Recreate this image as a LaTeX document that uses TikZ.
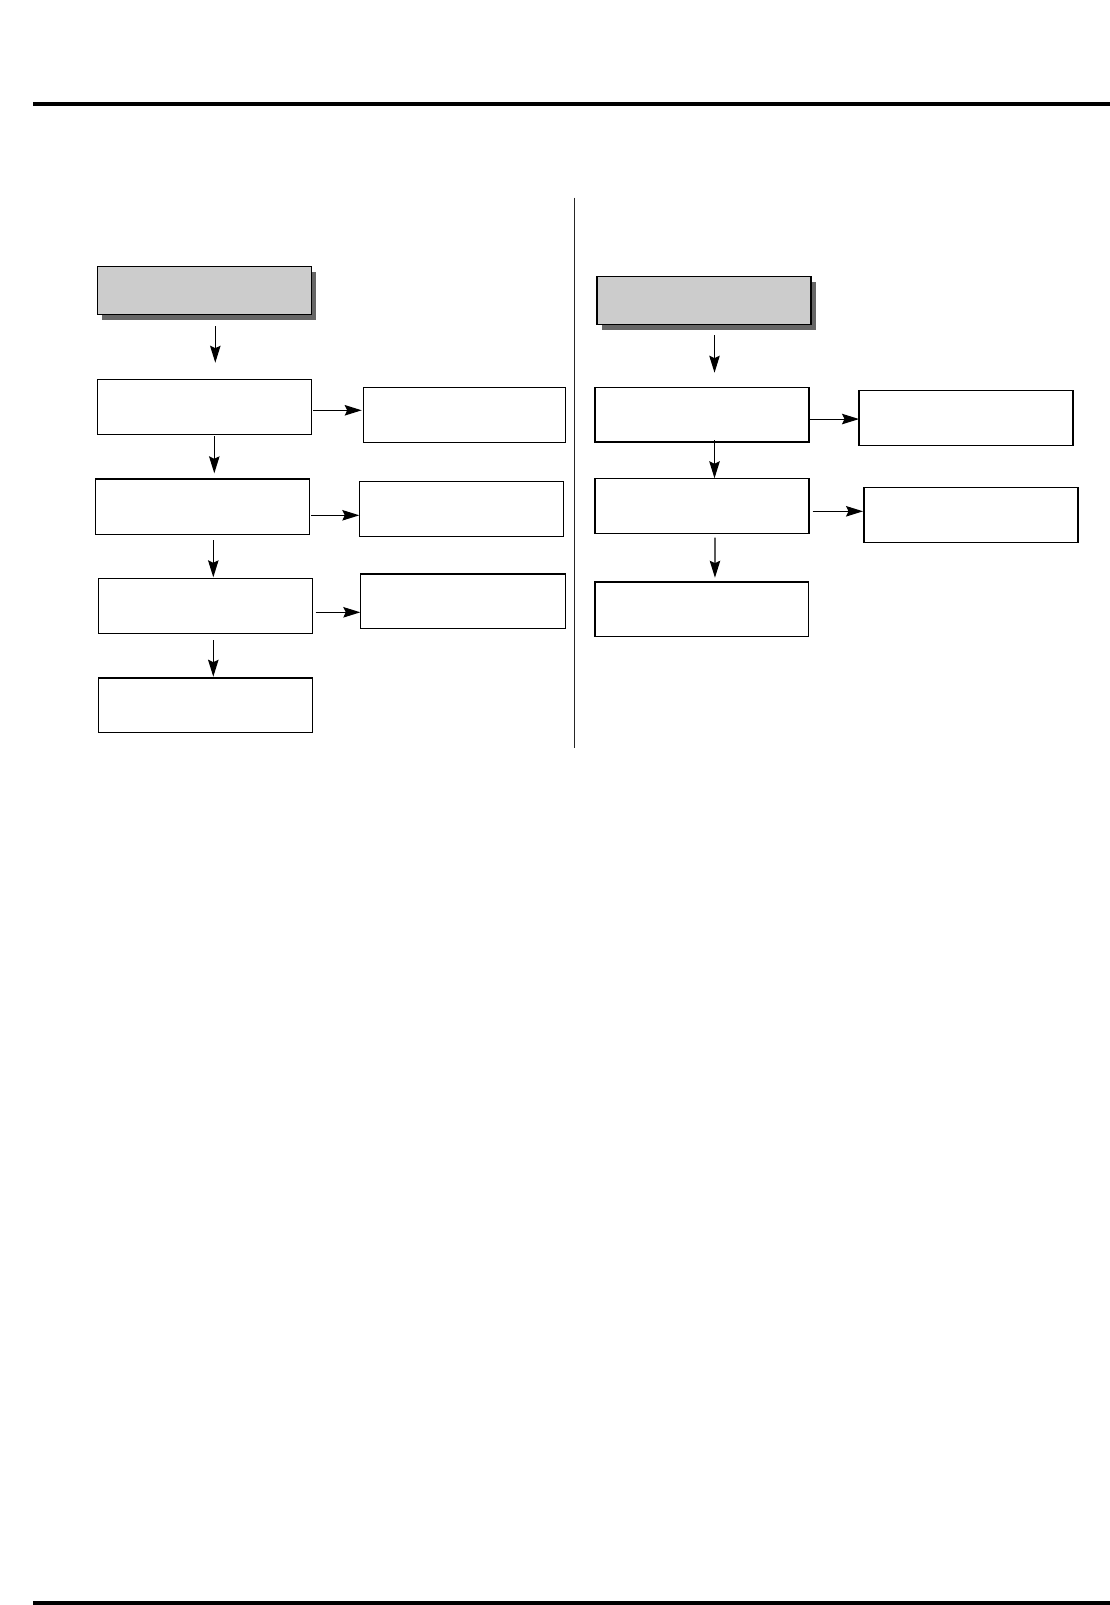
\documentclass[tikz,border=0pt]{standalone}
\usetikzlibrary{arrows.meta,shadows,calc}
\definecolor{boxgray}{HTML}{CCCCCC}
\definecolor{shadowgray}{HTML}{666666}
\tikzset{
  x=1pt, y=1pt,
  plainbox/.style={draw=black, line width=1.1pt, fill=white, inner sep=0pt, outer sep=0pt},
  headbox/.style={plainbox, fill=boxgray, drop shadow={shadow xshift=4.5pt, shadow yshift=-5.2pt, fill=shadowgray, opacity=1}},
  arr/.style={draw=black, line width=1.1pt, -{Stealth[length=17pt,width=10.5pt,inset=2.5pt]}},
  rule/.style={fill=black, draw=none},
  divider/.style={draw=black!85, line width=1.2pt},
}
\newcommand\mybox[6]{\node[#1, minimum width={#4-#2}, minimum height={#5-#3}] (#6) at ({(#2+#4)/2},{-(#3+#5)/2}) {};}
\begin{document}
\begin{tikzpicture}
\useasboundingbox (0,0) rectangle (1110,-1605);
% horizontal rules
\path[rule] (33,-102) rectangle (1110,-106);
\path[rule] (33,-1600.7) rectangle (1110,-1605);
% divider
\coordinate (dtop) at (574.3,-197.7);
\coordinate (dbot) at (574.3,-748);
\draw[divider] (dtop) -- (dbot);
% left column
\mybox{headbox}{97.3}{266.3}{311.7}{314.3}{A0}
\mybox{plainbox}{97.3}{379.3}{311.3}{434.3}{L1}
\mybox{plainbox}{363.3}{387.3}{565.3}{442.3}{R1}
\mybox{plainbox}{95.3}{479.3}{309.7}{534.3}{L2}
\mybox{plainbox}{359.3}{481.3}{563.3}{536.3}{R2}
\mybox{plainbox}{98.3}{578.3}{312.7}{633.3}{L3}
\mybox{plainbox}{360.3}{573.7}{565.7}{628.3}{R3}
\mybox{plainbox}{98.3}{677.7}{312.7}{732.3}{L4}
% thicker edges
\draw[line width=2pt] (L2.north west) -- (L2.north east);
\draw[line width=2pt] (R3.north west) -- (R3.north east);
\draw[line width=2pt] (L4.north west) -- (L4.north east);
% right column
\mybox{headbox}{597}{276.3}{811}{324.5}{B0}
\mybox{plainbox}{595}{387.5}{809}{442}{M1}
\mybox{plainbox}{859}{390.3}{1073}{445.3}{N1}
\mybox{plainbox}{595}{478.3}{809}{533.3}{M2}
\mybox{plainbox}{864}{487.3}{1078}{542.3}{N2}
\mybox{plainbox}{595}{582}{808.5}{636.3}{M3}
\draw[line width=2pt] (M1.north east) -- (M1.south east) -- (M1.south west);
% left arrows
\draw[arr] ($(A0.south)+(10.8,-11.7)$) -- ($(L1.north)+(11,16.6)$);
\draw[arr] ($(L1.south)+(10,-1.7)$) -- ($(L2.north)+(11.8,6)$);
\draw[arr] ($(L2.south)+(10.8,-5.7)$) -- ($(L3.north)+(7.8,1)$);
\draw[arr] ($(L3.south)+(7.8,-6.7)$) -- ($(L4.north)+(7.8,1)$);
\draw[arr] ($(L1.east)+(2,-3.5)$) -- ($(L1.east -| R1.west)+(-1.6,-3.5)$);
\draw[arr] ($(L2.east)+(1.3,-8.5)$) -- ($(L2.east -| R2.west)+(0,-8.5)$);
\draw[arr] ($(L3.east)+(3,-6.5)$) -- ($(L3.east -| R3.west)+(0,-6.5)$);
% right arrows
\draw[arr] ($(B0.south)+(10.5,-10.5)$) -- ($(M1.north)+(12.5,14.8)$);
\draw[arr] ($(M1.south)+(12.5,2)$) -- ($(M2.north)+(12.5,0)$);
\draw[arr] ($(M2.south)+(13,-4.4)$) -- ($(M3.north)+(13.2,4.3)$);
\draw[arr] ($(M1.east)+(0,-4.3)$) -- ($(M1.east -| N1.west)+(0,-4.3)$);
\draw[arr] ($(M2.east)+(3.5,-5.5)$) -- ($(M2.east -| N2.west)+(-1,-5.5)$);
\end{tikzpicture}
\end{document}
